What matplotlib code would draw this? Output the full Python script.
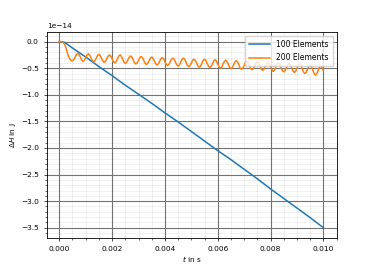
import matplotlib
matplotlib.use("Agg")
import matplotlib.pyplot as plt

# 100 elements: nearly linear energy drift (units of 1e-14 J)
T_100 = [0.0, 0.0001, 0.0002, 0.0003, 0.0005, 0.001, 0.0015, 0.002, 0.0025, 0.003,
         0.0035, 0.004, 0.0045, 0.005, 0.0055, 0.006, 0.0065, 0.007, 0.0075,
         0.008, 0.0085, 0.009, 0.0095, 0.01]
DH_100 = [0.0, -0.003, -0.015, -0.05, -0.12, -0.29, -0.47, -0.64, -0.82, -0.99,
          -1.16, -1.34, -1.51, -1.69, -1.87, -2.05, -2.22, -2.40, -2.58,
          -2.77, -2.95, -3.13, -3.31, -3.50]

# 200 elements: oscillating drift, read every 0.05 ms (units of 1e-14 J)
T_200 = [i * 0.00005 for i in range(201)]
DH_200 = [
    0.0, 0.0, -0.005, -0.02, -0.05, -0.11, -0.20, -0.28, -0.33, -0.355, -0.36,
    -0.339, -0.29, -0.241, -0.22,
    -0.242, -0.295, -0.348, -0.37,
    -0.349, -0.30, -0.251, -0.23,
    -0.252, -0.305, -0.358, -0.38,
    -0.359, -0.31, -0.261, -0.24,
    -0.262, -0.315, -0.368, -0.39,
    -0.369, -0.32, -0.271, -0.25,
    -0.272, -0.325, -0.378, -0.40,
    -0.378, -0.325, -0.272, -0.25,
    -0.274, -0.33, -0.386, -0.41,
    -0.389, -0.34, -0.291, -0.27,
    -0.292, -0.345, -0.398, -0.42,
    -0.399, -0.35, -0.301, -0.28,
    -0.302, -0.355, -0.408, -0.43,
    -0.409, -0.36, -0.311, -0.29,
    -0.312, -0.365, -0.418, -0.44,
    -0.419, -0.37, -0.321, -0.30,
    -0.322, -0.375, -0.428, -0.45,
    -0.429, -0.38, -0.331, -0.31,
    -0.332, -0.385, -0.438, -0.46,
    -0.438, -0.385, -0.332, -0.31,
    -0.334, -0.39, -0.446, -0.47,
    -0.449, -0.40, -0.351, -0.33,
    -0.352, -0.405, -0.458, -0.48,
    -0.458, -0.405, -0.352, -0.33,
    -0.354, -0.41, -0.466, -0.49,
    -0.468, -0.415, -0.362, -0.34,
    -0.364, -0.42, -0.476, -0.50,
    -0.478, -0.425, -0.372, -0.35,
    -0.374, -0.43, -0.486, -0.51,
    -0.488, -0.435, -0.382, -0.36,
    -0.384, -0.44, -0.496, -0.52,
    -0.498, -0.445, -0.392, -0.37,
    -0.394, -0.45, -0.506, -0.53,
    -0.508, -0.455, -0.402, -0.38,
    -0.404, -0.46, -0.516, -0.54,
    -0.518, -0.465, -0.412, -0.39,
    -0.416, -0.475, -0.535, -0.56,
    -0.536, -0.48, -0.424, -0.40,
    -0.426, -0.485, -0.545, -0.57,
    -0.546, -0.49, -0.434, -0.41,
    -0.436, -0.495, -0.555, -0.58,
    -0.556, -0.50, -0.444, -0.42,
    -0.447, -0.51, -0.573, -0.60,
    -0.576, -0.52, -0.464, -0.44,
    -0.469, -0.535, -0.602, -0.63,
    -0.605, -0.545, -0.485, -0.46,
    -0.486, -0.55,
]
SCALE = 1e-14

fig, ax = plt.subplots(figsize=(3.74, 2.67), dpi=100)
ax.plot(T_100, [v * SCALE for v in DH_100], color="#1f77b4", lw=1.1, label="100 Elements")
ax.plot(T_200, [v * SCALE for v in DH_200], color="#ff7f0e", lw=1.1, label="200 Elements")

ax.minorticks_on()
ax.grid(which="major", color="0.45", lw=0.8)
ax.grid(which="minor", color="k", alpha=0.08, lw=0.5)
ax.tick_params(which="major", labelsize=5.3, length=2.2, width=0.5)
ax.tick_params(which="minor", length=1.2, width=0.4)
ax.yaxis.get_offset_text().set_fontsize(5.3)
for s in ax.spines.values():
    s.set_linewidth(0.6)

ax.set_xlabel("$t$ in s", fontsize=5.3, labelpad=2)
ax.set_ylabel(r"$\Delta H$ in J", fontsize=5.3, labelpad=2)
ax.set_xlim(-0.000475, 0.0105)
ax.set_ylim(-3.686e-14, 0.18e-14)
ax.legend(loc="upper right", fontsize=5.5, handlelength=2.8, borderpad=0.5,
          labelspacing=0.6, framealpha=0.8)

fig.savefig("out.png", dpi=100)
